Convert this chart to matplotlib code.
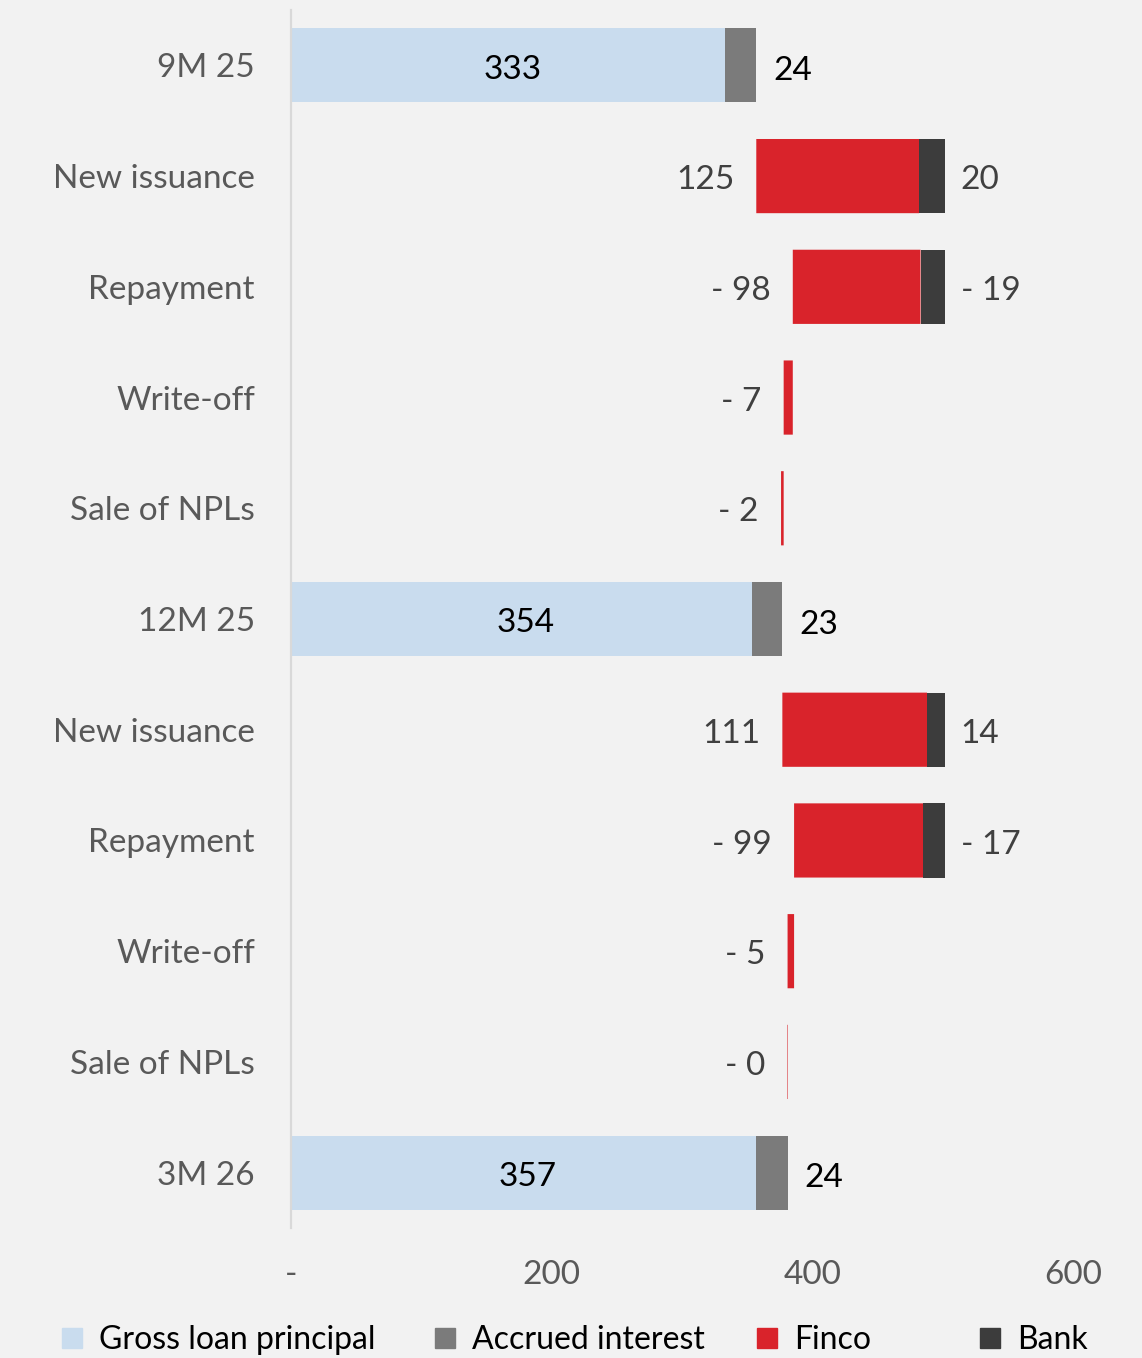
import matplotlib
matplotlib.use("Agg")
import matplotlib.pyplot as plt
from matplotlib.patches import Rectangle

plt.rcParams['font.family'] = ['Lato', 'DejaVu Sans']

categories = ['9M 25', 'New issuance', 'Repayment', 'Write-off', 'Sale of NPLs',
              '12M 25', 'New issuance', 'Repayment', 'Write-off', 'Sale of NPLs',
              '3M 26']
is_total = [True, False, False, False, False, True, False, False, False, False, True]
principal = [333, 0, 0, 0, 0, 354, 0, 0, 0, 0, 357]
accrued = [24, 0, 0, 0, 0, 23, 0, 0, 0, 0, 24]
finco = [0, 125, -98, -7, -2, 0, 111, -99, -5, -0.4, 0]
bank = [0, 20, -19, 0, 0, 0, 14, -17, 0, 0, 0]

legend_names = ['Gross loan principal', 'Accrued interest', 'Finco', 'Bank']
xticks = [0, 200, 400, 600]
xtick_labels = ['-', '200', '400', '600']

c_princ = '#C9DCEE'
c_accr = '#7B7B7B'
c_finco = '#D9232B'
c_bank = '#3C3C3C'
bg = '#F2F2F2'
fs = 24


def fmt(v):
    if v < 0:
        return '- %d' % round(abs(v))
    return '%d' % round(v)


def main():
    fig = plt.figure(figsize=(11.42, 13.58), dpi=100)
    fig.patch.set_facecolor(bg)
    ax = fig.add_axes([291 / 1142, 1 - 1228 / 1358, (1073 - 291) / 1142, (1228 - 10) / 1358])
    ax.set_facecolor(bg)

    h = 0.67
    level = 0
    for i, cat in enumerate(categories):
        if is_total[i]:
            ax.barh(i, principal[i], height=h, color=c_princ, linewidth=0)
            ax.barh(i, accrued[i], left=principal[i], height=h, color=c_accr, linewidth=0)
            level = principal[i] + accrued[i]
            ax.annotate(fmt(principal[i]), (principal[i] / 2, i), xytext=(3, -3),
                        textcoords='offset points', ha='center', va='center',
                        fontsize=fs, color='black')
            ax.annotate(fmt(accrued[i]), (level, i), xytext=(12, -4), textcoords='offset points',
                        ha='left', va='center', fontsize=fs, color='black')
        else:
            move = finco[i] + bank[i]
            start = level if move >= 0 else level + move
            bars = ax.barh(i, abs(finco[i]), left=start, height=h, color=c_finco, linewidth=0)
            for b in bars:
                b.set_snap(False)
            if bank[i] != 0:
                ax.barh(i, abs(bank[i]), left=start + abs(finco[i]), height=h, color=c_bank,
                        linewidth=0)
                ax.annotate(fmt(bank[i]), (start + abs(finco[i]) + abs(bank[i]), i),
                            xytext=(11, -3), textcoords='offset points',
                            ha='left', va='center', fontsize=fs, color='#404040')
            ax.annotate(fmt(finco[i]), (start, i), xytext=(-16, -3), textcoords='offset points',
                        ha='right', va='center', fontsize=fs, color='#404040')
            level = level + move

    ax.set_xlim(0, 600)
    ax.set_ylim(len(categories) - 0.5, -0.5)
    ax.set_yticks(range(len(categories)))
    ax.set_yticklabels(categories, fontsize=fs, color='#595959')
    ax.set_xticks(xticks)
    ax.set_xticklabels(xtick_labels, fontsize=fs, color='#595959')
    ax.tick_params(axis='y', length=0, pad=26)
    ax.tick_params(axis='x', length=0, pad=23)
    for s in ['top', 'right', 'bottom']:
        ax.spines[s].set_visible(False)
    ax.spines['left'].set_color('#D9D9D9')
    ax.spines['left'].set_linewidth(1.6)

    # legend drawn by hand to keep the uneven spacing
    leg_x = [62, 435, 757, 980]
    leg_colors = [c_princ, c_accr, c_finco, c_bank]
    for x, name, col in zip(leg_x, legend_names, leg_colors):
        fig.patches.append(Rectangle((x / 1142, 1 - 1348 / 1358), 20 / 1142, 20 / 1358,
                                     transform=fig.transFigure, color=col))
        fig.text((x + 37) / 1142, 1 - 1340 / 1358, name, ha='left', va='center',
                 fontsize=23, color='black')

    fig.savefig('out.png', dpi=100, facecolor=bg)


if __name__ == '__main__':
    main()
